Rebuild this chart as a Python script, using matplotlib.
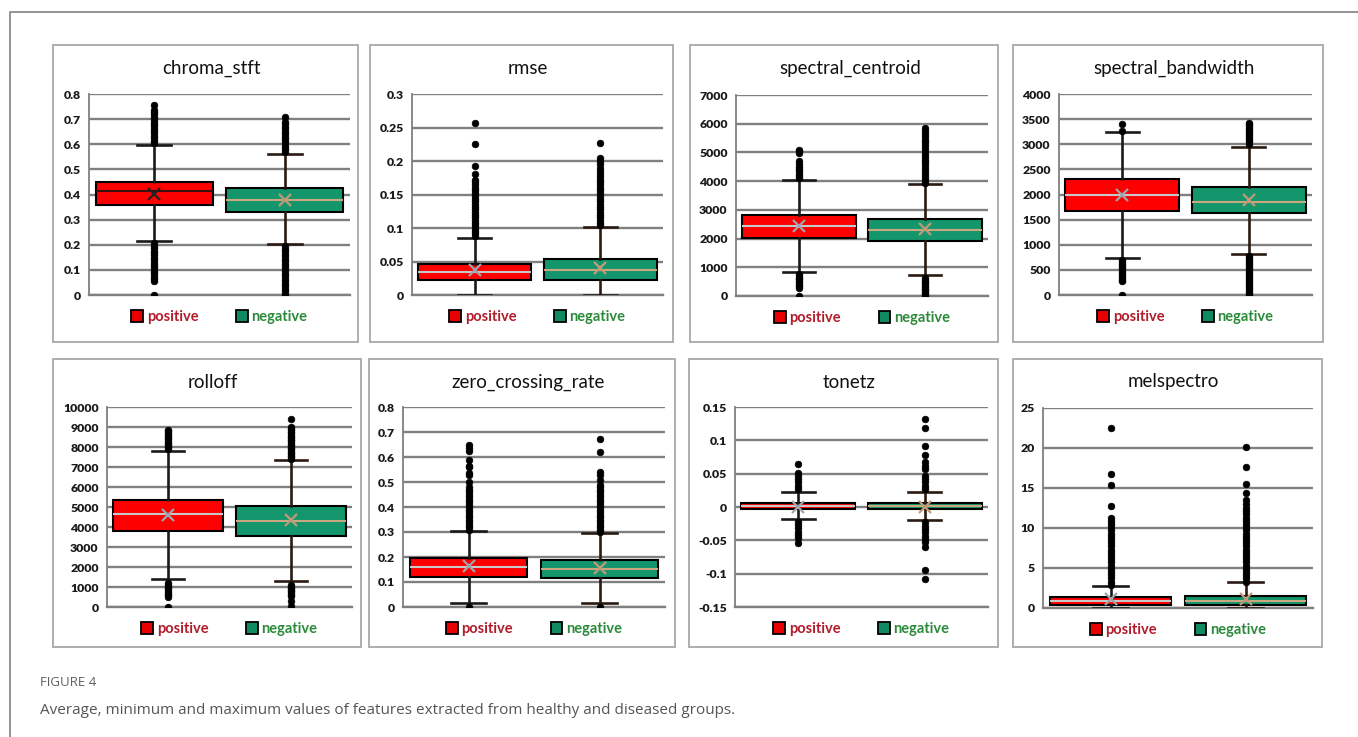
import matplotlib
matplotlib.use("Agg")
import matplotlib.pyplot as plt
from matplotlib.patches import Rectangle, Patch
from matplotlib.lines import Line2D
from matplotlib.ticker import FuncFormatter

# ---------------- data ----------------
features = ["chroma_stft", "rmse", "spectral_centroid", "spectral_bandwidth",
            "rolloff", "zero_crossing_rate", "tonetz", "melspectro"]
groups = ["positive", "negative"]

# positive group statistics (per feature)
pos_lo   = [0.215, 0.0,   824,  742,  1383, 0.015, -0.0185, 0.0]
pos_q1   = [0.357, 0.022, 2008, 1678, 3800, 0.121, -0.0035, 0.375]
pos_med  = [0.413, 0.034, 2438, 1990, 4633, 0.159,  0.001,  0.92]
pos_q3   = [0.451, 0.047, 2821, 2302, 5350, 0.195,  0.0065, 1.42]
pos_hi   = [0.596, 0.085, 4040, 3250, 7817, 0.305,  0.0225, 2.75]
pos_mean = [0.401, 0.037, 2430, 1990, 4600, 0.164,  0.0005, 1.1]

# negative group statistics (per feature)
neg_lo   = [0.202, 0.0,    731,  816, 1300, 0.017, -0.0195, 0.0]
neg_q1   = [0.332, 0.022, 1927, 1625, 3550, 0.115, -0.0035, 0.33]
neg_med  = [0.378, 0.037, 2299, 1845, 4300, 0.152,  0.001,  0.9]
neg_q3   = [0.425, 0.0535, 2682, 2143, 5067, 0.188,  0.0065, 1.54]
neg_hi   = [0.563, 0.101, 3890, 2951, 7333, 0.297,  0.0225, 3.2]
neg_mean = [0.378, 0.040, 2320, 1890, 4350, 0.157,  0.0005, 1.1]

# outliers
pos_fliers = [
    [0.605, 0.614, 0.624, 0.633, 0.643, 0.652, 0.662, 0.671, 0.681, 0.690, 0.700, 0.709, 0.719, 0.728, 0.737, 0.757,
     0.205, 0.196, 0.186, 0.177, 0.167, 0.158, 0.148, 0.139, 0.129, 0.120, 0.110, 0.101, 0.091, 0.082, 0.072, 0.063, 0.056, 0.0],
    [0.088, 0.092, 0.096, 0.100, 0.104, 0.108, 0.112, 0.116, 0.120, 0.124, 0.128, 0.132, 0.136, 0.140, 0.144,
     0.148, 0.152, 0.156, 0.160, 0.164, 0.168, 0.172, 0.180, 0.193, 0.226, 0.256],
    [4100, 4180, 4260, 4340, 4420, 4500, 4600, 4700, 4980, 5050, 5100,
     760, 700, 640, 580, 520, 460, 400, 340, 280, 0],
    [3270, 3400,
     700, 660, 620, 580, 540, 500, 460, 420, 380, 340, 300, 280, 0],
    [7900, 7980, 8060, 8140, 8220, 8300, 8380, 8460, 8540, 8620, 8700, 8780, 8850,
     1200, 1110, 1020, 930, 840, 750, 660, 580, 517, 0],
    [0.31, 0.32, 0.33, 0.34, 0.35, 0.36, 0.37, 0.38, 0.39, 0.40, 0.41, 0.42, 0.43, 0.44, 0.45, 0.46, 0.47, 0.48,
     0.50, 0.53, 0.535, 0.56, 0.565, 0.59, 0.625, 0.635, 0.648, 0.0],
    [0.027, 0.032, 0.037, 0.042, 0.047, 0.051, 0.064,
     -0.022, -0.027, -0.032, -0.037, -0.042, -0.047, -0.0535],
    [2.9, 3.3, 3.7, 4.1, 4.5, 4.9, 5.3, 5.7, 6.1, 6.5, 6.9, 7.3, 7.7, 8.1, 8.5, 8.9, 9.3, 9.7, 10.1, 10.5,
     10.9, 11.2, 12.75, 15.4, 16.75, 22.5],
]
neg_fliers = [
    [0.570, 0.580, 0.590, 0.600, 0.610, 0.620, 0.630, 0.640, 0.650, 0.660, 0.670, 0.680, 0.690, 0.707,
     0.195, 0.185, 0.175, 0.165, 0.155, 0.145, 0.135, 0.125, 0.115, 0.105, 0.095, 0.085, 0.075, 0.065,
     0.055, 0.045, 0.035, 0.025, 0.015, 0.005, 0.0],
    [0.104, 0.108, 0.112, 0.116, 0.120, 0.124, 0.128, 0.132, 0.136, 0.140, 0.144, 0.148, 0.152, 0.156,
     0.160, 0.164, 0.168, 0.172, 0.176, 0.180, 0.185, 0.190, 0.195, 0.200, 0.205, 0.227],
    [3950, 4050, 4150, 4250, 4350, 4450, 4550, 4650, 4750, 4850, 4950, 5050, 5150, 5250, 5350, 5450,
     5550, 5650, 5750, 5840,
     620, 560, 500, 440, 380, 320, 260, 200, 140, 80, 20, 0],
    [3000, 3040, 3080, 3120, 3160, 3200, 3240, 3280, 3320, 3360, 3400, 3420,
     780, 740, 700, 660, 620, 580, 540, 500, 460, 420, 380, 340, 300, 260, 220, 180, 140, 100, 60, 20, 0],
    [7400, 7480, 7560, 7640, 7720, 7800, 7880, 7960, 8040, 8120, 8200, 8280, 8360, 8440, 8520, 8600,
     8680, 8760, 8840, 8920, 9000, 9383,
     1100, 1020, 940, 860, 780, 700, 620, 540, 300, 50],
    [0.30, 0.31, 0.32, 0.33, 0.34, 0.35, 0.36, 0.37, 0.38, 0.39, 0.40, 0.41, 0.42, 0.43, 0.44, 0.45,
     0.46, 0.47, 0.48, 0.49, 0.51, 0.53, 0.54, 0.62, 0.671, 0.0],
    [0.027, 0.032, 0.037, 0.042, 0.047, 0.057, 0.062, 0.067, 0.078, 0.091, 0.118, 0.1315,
     -0.023, -0.028, -0.033, -0.038, -0.043, -0.048, -0.053, -0.0605, -0.0945, -0.108],
    [3.3, 3.7, 4.1, 4.5, 4.9, 5.3, 5.7, 6.1, 6.5, 6.9, 7.3, 7.7, 8.1, 8.5, 8.9, 9.3, 9.7, 10.1, 10.5,
     10.9, 11.3, 11.7, 12.1, 12.5, 13.0, 13.5, 14.4, 15.5, 17.65, 20.08],
]

# y-axis ticks per feature
y_ticks = [
    [0, 0.1, 0.2, 0.3, 0.4, 0.5, 0.6, 0.7, 0.8],
    [0, 0.05, 0.1, 0.15, 0.2, 0.25, 0.3],
    [0, 1000, 2000, 3000, 4000, 5000, 6000, 7000],
    [0, 500, 1000, 1500, 2000, 2500, 3000, 3500, 4000],
    [0, 1000, 2000, 3000, 4000, 5000, 6000, 7000, 8000, 9000, 10000],
    [0, 0.1, 0.2, 0.3, 0.4, 0.5, 0.6, 0.7, 0.8],
    [-0.15, -0.1, -0.05, 0, 0.05, 0.1, 0.15],
    [0, 5, 10, 15, 20, 25],
]

caption_label = "FIGURE 4"
caption_text = "Average, minimum and maximum values of features extracted from healthy and diseased groups."

# ---------------- layout (pixels) ----------------
W, H = 1358, 737
frames = [(53, 45, 358, 342), (370, 45, 673, 342), (690, 45, 998, 342), (1013, 45, 1323, 342),
          (53, 359, 361, 647), (369, 359, 675, 647), (689, 359, 998, 647), (1013, 359, 1322, 647)]
plots = [(89, 94, 350, 295), (412, 94, 663, 295), (736, 95, 988, 296), (1059, 94, 1312, 295),
         (107, 407, 352, 607), (403, 407, 665, 607), (735, 407, 988, 607), (1043, 408, 1313, 608)]

RED = "#ff0000"
GREEN = "#14966c"
GRID = "#808080"

fig = plt.figure(figsize=(W / 100, H / 100), dpi=100)
fig.patch.set_facecolor("white")

def frac_rect(x0, y0, x1, y1):
    return [x0 / W, 1 - y1 / H, (x1 - x0) / W, (y1 - y0) / H]

# outer frame (left + top lines)
fig.add_artist(Line2D([10 / W, 10 / W, 1.0], [0.0, 1 - 12 / H, 1 - 12 / H],
                      transform=fig.transFigure, color="#8a8a8a", lw=1.3))

fmt = FuncFormatter(lambda v, p: ("%g" % v))

for i, feat in enumerate(features):
    fx0, fy0, fx1, fy1 = frames[i]
    fig.add_artist(Rectangle((fx0 / W, 1 - fy1 / H), (fx1 - fx0) / W, (fy1 - fy0) / H,
                             transform=fig.transFigure, fill=False, ec="#a8a8a8", lw=1.3))
    fig.text((fx0 + fx1) / 2 / W + 6 / W, 1 - (fy0 + 23) / H, feat, ha="center", va="center",
             fontsize=13.5, family="Lato", color="#111111")

    ax = fig.add_axes(frac_rect(*plots[i]))
    stats = [
        dict(whislo=pos_lo[i], q1=pos_q1[i], med=pos_med[i], q3=pos_q3[i], whishi=pos_hi[i],
             mean=pos_mean[i], fliers=pos_fliers[i], label=groups[0]),
        dict(whislo=neg_lo[i], q1=neg_q1[i], med=neg_med[i], q3=neg_q3[i], whishi=neg_hi[i],
             mean=neg_mean[i], fliers=neg_fliers[i], label=groups[1]),
    ]
    bp = ax.bxp(stats, positions=[0, 1], widths=0.9, patch_artist=True, showmeans=True,
                capwidths=0.26, manage_ticks=False,
                boxprops=dict(lw=1.5, edgecolor="black"),
                whiskerprops=dict(lw=1.9, color="#1a1a1a"),
                capprops=dict(lw=1.9, color="#1a1a1a"),
                medianprops=dict(lw=1.5, color="#c8c8c8"),
                meanprops=dict(marker="x", markersize=9, markeredgewidth=1.6, markeredgecolor="#a0a4ac"),
                flierprops=dict(marker="o", markersize=4.8, markerfacecolor="black",
                                markeredgecolor="black", markeredgewidth=0.5))
    bp["boxes"][0].set_facecolor(RED)
    bp["boxes"][1].set_facecolor(GREEN)
    bp["medians"][1].set_color("#c9a77f")
    bp["means"][1].set_markeredgecolor("#c09a78")
    for k in (2, 3):
        bp["whiskers"][k].set_color("#2a1a12")
        bp["caps"][k].set_color("#2a1a12")
    if i == 0:
        bp["medians"][0].set_color("#3a1010")
        bp["means"][0].set_markeredgecolor("#222222")
    for art in bp["boxes"] + bp["medians"] + bp["whiskers"] + bp["caps"] + bp["means"] + bp["fliers"]:
        art.set_zorder(3)
    for m in bp["means"]:
        m.set_zorder(4)

    ticks = y_ticks[i]
    ax.set_xlim(-0.5, 1.5)
    ax.set_ylim(ticks[0], ticks[-1])
    ax.set_yticks(ticks)
    ax.yaxis.set_major_formatter(fmt)
    ax.set_xticks([])
    ax.grid(axis="y", color=GRID, lw=1.7)
    ax.set_axisbelow(True)
    for s in ("top", "right"):
        ax.spines[s].set_visible(False)
    ax.spines["left"].set_color(GRID)
    ax.spines["left"].set_linewidth(1.3)
    ax.spines["bottom"].set_color(GRID)
    ax.spines["bottom"].set_linewidth(1.7)
    ax.tick_params(axis="y", length=0, pad=6, labelsize=8.8, labelcolor="#1a1a1a")
    for lab in ax.get_yticklabels():
        lab.set_fontfamily("Lato")
        lab.set_fontweight("heavy")
    ax.set_facecolor("none")

    handles = [Patch(facecolor="#e80000", edgecolor="black", lw=1.3),
               Patch(facecolor="#0f8a62", edgecolor="black", lw=1.3)]
    ax.legend(handles, groups, loc="center", bbox_to_anchor=(0.5, -0.11), ncol=2, frameon=False,
              prop=dict(family="Lato", weight="bold", size=10.5),
              labelcolor=["#b01c2c", "#2b8a3a"], handlelength=0.8, handleheight=0.8,
              handletextpad=0.25, columnspacing=2.6, borderpad=0, borderaxespad=0)

fig.text(40 / W, 1 - 683 / H, caption_label, ha="left", va="center", fontsize=9.5,
         family="Open Sans", color="#5f5f5f")
fig.text(40 / W, 1 - 711 / H, caption_text, ha="left", va="center", fontsize=11,
         family="Open Sans", color="#555555")

fig.savefig("out.png", dpi=100)
